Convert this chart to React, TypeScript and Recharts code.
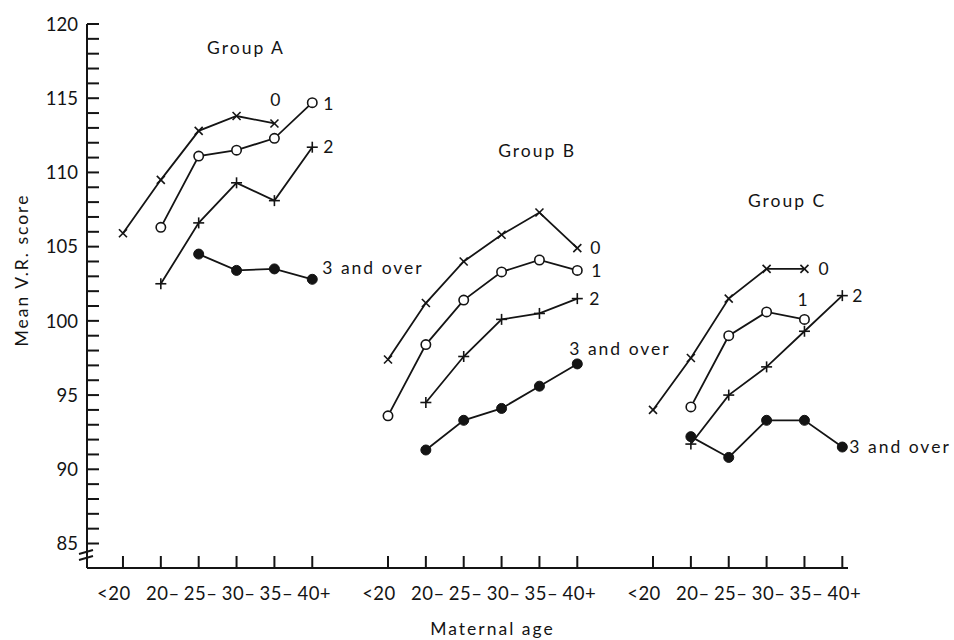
import React from "react";
import { LineChart, Line, XAxis, YAxis, ReferenceDot } from "recharts";

const INK = "#141414";
const FONT = "Lato, 'Open Sans', sans-serif";

const ageBands = ["<20", "20–", "25–", "30–", "35–", "40+"];
const groupNames = ["Group A", "Group B", "Group C"];
const seriesNames = ["0", "1", "2", "3 and over"];

// mean V.R. score per maternal age band, one list per birth order
const groupA0 = [105.9, 109.5, 112.8, 113.8, 113.3, null];
const groupA1 = [null, 106.3, 111.1, 111.5, 112.3, 114.7];
const groupA2 = [null, 102.5, 106.6, 109.3, 108.1, 111.7];
const groupA3 = [null, null, 104.5, 103.4, 103.5, 102.8];

const groupB0 = [97.4, 101.2, 104.0, 105.8, 107.3, 104.9];
const groupB1 = [93.6, 98.4, 101.4, 103.3, 104.1, 103.4];
const groupB2 = [null, 94.5, 97.6, 100.1, 100.5, 101.5];
const groupB3 = [null, 91.3, 93.3, 94.1, 95.6, 97.1];

const groupC0 = [94.0, 97.5, 101.5, 103.5, 103.5, null];
const groupC1 = [null, 94.2, 99.0, 100.6, 100.1, null];
const groupC2 = [null, 91.7, 95.0, 96.9, 99.3, 101.7];
const groupC3 = [null, 92.2, 90.8, 93.3, 93.3, 91.5];

const yMajorTicks = [85, 90, 95, 100, 105, 110, 115, 120];

const scores = [
  [groupA0, groupA1, groupA2, groupA3],
  [groupB0, groupB1, groupB2, groupB3],
  [groupC0, groupC1, groupC2, groupC3],
];

// 6 age bands + one empty slot between groups
const SLOTS = 7;

const rows: any[] = [];
scores.forEach((group, gi) => {
  ageBands.forEach((_, ai) => {
    const row: any = { pos: gi * SLOTS + ai };
    group.forEach((vals, si) => {
      row[`g${gi}s${si}`] = vals[ai];
    });
    rows.push(row);
  });
});
const xTicks = rows.map((r) => r.pos);
const yTicks: number[] = [];
for (let v = yMajorTicks[0]; v <= yMajorTicks[yMajorTicks.length - 1]; v++) yTicks.push(v);

// where each end-of-line label sits, relative to the last point
const endLabelPlace: Record<string, { dx: number; dy: number; anchor: string }> = {
  g0s0: { dx: 2, dy: -24, anchor: "middle" },
  g0s1: { dx: 11, dy: 1, anchor: "start" },
  g0s2: { dx: 11, dy: 0, anchor: "start" },
  g0s3: { dx: 10, dy: -12, anchor: "start" },
  g1s0: { dx: 13, dy: 0, anchor: "start" },
  g1s1: { dx: 14, dy: 0, anchor: "start" },
  g1s2: { dx: 12, dy: 0, anchor: "start" },
  g1s3: { dx: -8, dy: -15, anchor: "start" },
  g2s0: { dx: 14, dy: 0, anchor: "start" },
  g2s1: { dx: -1, dy: -20, anchor: "middle" },
  g2s2: { dx: 10, dy: 0, anchor: "start" },
  g2s3: { dx: 7, dy: 0, anchor: "start" },
};
const groupTitlePlace = [
  { x: 3.25, y: 118.4 },
  { x: 10.94, y: 111.45 },
  { x: 17.54, y: 108.07 },
];

const textStyle = { fontFamily: FONT, fontSize: 17.5, letterSpacing: 2, fill: INK };

function Marker({ kind, cx, cy }: { kind: number; cx: number; cy: number }) {
  if (kind === 0) {
    const a = 4;
    return (
      <g stroke={INK} strokeWidth={1.6}>
        <line x1={cx - a} y1={cy - a} x2={cx + a} y2={cy + a} />
        <line x1={cx - a} y1={cy + a} x2={cx + a} y2={cy - a} />
      </g>
    );
  }
  if (kind === 1) return <circle cx={cx} cy={cy} r={4.7} fill="#fff" stroke={INK} strokeWidth={1.6} />;
  if (kind === 2) {
    const a = 5.5;
    return (
      <g stroke={INK} strokeWidth={1.6}>
        <line x1={cx - a} y1={cy} x2={cx + a} y2={cy} />
        <line x1={cx} y1={cy - a} x2={cx} y2={cy + a} />
      </g>
    );
  }
  return <circle cx={cx} cy={cy} r={5} fill={INK} stroke={INK} strokeWidth={1} />;
}

function makeDot(key: string, si: number, lastPos: number) {
  return (props: any) => {
    const { cx, cy, payload } = props;
    if (cx == null || cy == null || payload == null || payload[key] == null) return <g key={props.index} />;
    const place = endLabelPlace[key];
    return (
      <g key={props.index}>
        <Marker kind={si} cx={cx} cy={cy} />
        {payload.pos === lastPos && (
          <text x={cx + place.dx} y={cy + place.dy} dy="0.36em" textAnchor={place.anchor} style={textStyle}>
            {seriesNames[si]}
          </text>
        )}
      </g>
    );
  };
}

function YTick(props: any) {
  const { x, y, payload } = props;
  const v = payload.value;
  return (
    <g>
      <line x1={x} x2={x + 12} y1={y} y2={y} stroke={INK} strokeWidth={2} />
      {v % 5 === 0 && (
        <text x={x - 9} y={y} dy="0.36em" textAnchor="end" fontFamily={FONT} fontSize={18.5} fill={INK}>
          {v}
        </text>
      )}
      {v === yMajorTicks[0] && (
        <g stroke={INK} strokeWidth={2}>
          <line x1={x - 8} y1={y + 10.5} x2={x + 6} y2={y + 6.5} />
          <line x1={x - 8} y1={y + 16.5} x2={x + 6} y2={y + 12.5} />
        </g>
      )}
    </g>
  );
}

function XTick(props: any) {
  const { x, y, payload } = props;
  const ai = payload.value % SLOTS;
  return (
    <g>
      <line x1={x} x2={x} y1={y} y2={y - 12} stroke={INK} strokeWidth={2} />
      <text
        x={x + (ai === 0 ? -9 : 2)}
        y={y + 25}
        dy="0.36em"
        textAnchor="middle"
        fontFamily={FONT}
        fontSize={18.5}
        letterSpacing={0.5}
        fill={INK}
      >
        {ageBands[ai]}
      </text>
    </g>
  );
}

function YTitle(props: any) {
  const vb = props.viewBox;
  const cx = vb.x + 22;
  const cy = vb.y + vb.height / 2 - 26;
  return (
    <text x={cx} y={cy} dy="0.36em" textAnchor="middle" transform={`rotate(-90, ${cx}, ${cy})`} style={textStyle}>
      Mean V.R. score
    </text>
  );
}

function XTitle(props: any) {
  const vb = props.viewBox;
  const cx = vb.x + vb.width / 2 + 25;
  const cy = vb.y + 61;
  return (
    <text x={cx} y={cy} dy="0.36em" textAnchor="middle" style={textStyle}>
      Maternal age
    </text>
  );
}

export default function App() {
  const lines: React.ReactNode[] = [];
  scores.forEach((group, gi) => {
    group.forEach((vals, si) => {
      const key = `g${gi}s${si}`;
      let lastAi = 0;
      vals.forEach((v, ai) => {
        if (v != null) lastAi = ai;
      });
      lines.push(
        <Line
          key={key}
          dataKey={key}
          type="linear"
          stroke={INK}
          strokeWidth={1.8}
          connectNulls={false}
          dot={makeDot(key, si, gi * SLOTS + lastAi)}
          activeDot={false}
          legendType="none"
          isAnimationActive={false}
        />
      );
    });
  });

  return (
    <div style={{ position: "absolute", left: 0, top: 0, width: 954, height: 640, background: "#fff" }}>
      <LineChart width={954} height={640} data={rows} margin={{ top: 24, right: 106, bottom: 0, left: 0 }}>
        <XAxis
          type="number"
          dataKey="pos"
          domain={[-0.95, 19.15]}
          ticks={xTicks}
          interval={0}
          tickSize={0}
          tickMargin={0}
          tickLine={false}
          tick={<XTick />}
          axisLine={{ stroke: INK, strokeWidth: 2 }}
          height={72}
          label={<XTitle />}
        />
        <YAxis
          type="number"
          domain={[83.35, 120]}
          ticks={yTicks}
          interval={0}
          tickSize={0}
          tickMargin={0}
          tickLine={false}
          tick={<YTick />}
          axisLine={{ stroke: INK, strokeWidth: 2 }}
          width={87}
          label={<YTitle />}
        />
        {lines}
        {groupNames.map((name, gi) => (
          <ReferenceDot
            key={name}
            x={groupTitlePlace[gi].x}
            y={groupTitlePlace[gi].y}
            r={0}
            shape={(p: any) => (
              <text x={p.cx} y={p.cy} dy="0.36em" textAnchor="middle" style={textStyle}>
                {name}
              </text>
            )}
          />
        ))}
      </LineChart>
    </div>
  );
}
